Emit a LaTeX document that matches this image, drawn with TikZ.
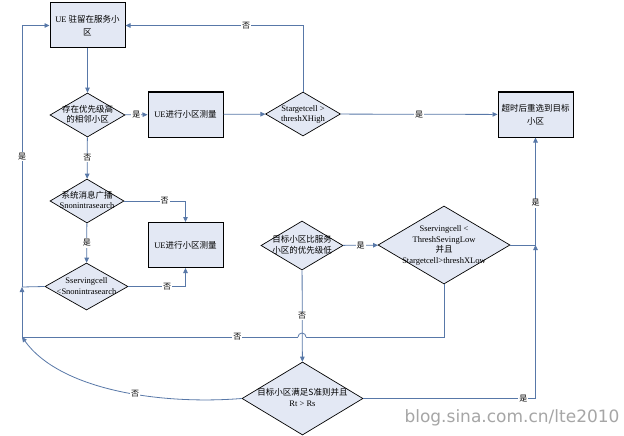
\documentclass[tikz,border=0pt]{standalone}
\usepackage{fontspec}
\setmainfont{Liberation Serif}
\newfontfamily\cjk{Noto Sans CJK SC}
\newfontfamily\wmfont{DejaVu Sans}
\usetikzlibrary{shapes.geometric,arrows.meta}
\definecolor{nf}{HTML}{E3E8F4}
\definecolor{lc}{HTML}{5878A8}
\newcommand\zh[1]{{\cjk #1}}
\newcommand\dtext[1]{\smash{\makebox[0pt]{\raisebox{-2.5pt}{\begin{tabular}{@{}c@{}}#1\end{tabular}}}}}
\tikzset{
  line/.style={draw=lc, line width=0.8pt},
  arr/.style={line, -{Triangle[length=5pt,width=4.5pt]}},
  box/.style={draw=black, line width=1pt, fill=nf, minimum width=75pt, minimum height=45pt, inner sep=0pt, align=center, font=\fontsize{8.5}{13}\selectfont},
  dia/.style={diamond, draw=black, line width=0.7pt, fill=nf, inner sep=0pt, font=\fontsize{8.5}{10.5}\selectfont},
  lab/.style={fill=white, inner sep=1pt, font=\fontsize{8}{9}\selectfont\cjk}
}
\begin{document}
\begin{tikzpicture}[x=1pt,y=-1pt]
\useasboundingbox[fill=white] (0,0) rectangle (624,436);
% nodes
\node[box] (A) at (87.5,25.5) {UE \zh{驻留在服务小}\\\zh{区}};
\node[dia, minimum width=75pt, minimum height=44pt] (D1) at (87.5,115) {\dtext{\zh{存在优先级高}\\\zh{的相邻小区}}};
\node[box] (B1) at (185.5,114.5) {UE\zh{进行小区测量}};
\node[dia, minimum width=75pt, minimum height=44pt] (D2) at (303,114) {\dtext{Stargetcell >\\threshXHigh}};
\node[box] (E) at (535.5,114.5) {\zh{超时后重选到目标}\\\zh{小区}};
\node[dia, minimum width=74pt, minimum height=44pt] (D3) at (87,201) {\dtext{\zh{系统消息广播}\\Snonintrasearch}};
\node[box] (B2) at (185.5,245) {UE\zh{进行小区测量}};
\node[dia, minimum width=83pt, minimum height=47pt] (D4) at (86.5,286.5) {\dtext{Sservingcell\\<Snonintrasearch}};
\node[dia, minimum width=82pt, minimum height=49pt] (D5) at (302,245.5) {\dtext{\zh{目标小区比服务}\\\zh{小区的优先级低}}};
\node[dia, minimum width=132pt, minimum height=78pt] (D6) at (444,245) {\dtext{Sservingcell <\\ThreshSevingLow\\\zh{并且}\\Stargetcell>threshXLow}};
\node[dia, minimum width=121pt, minimum height=73pt] (D7) at (302.5,398.5) {\dtext{\zh{目标小区满足S准则并且}\\Rt > Rs}};
\node[inner sep=0pt, text=gray!70, font=\wmfont\fontsize{17}{17}\selectfont] (wm) at (512,418) {blog.sina.com.cn/lte2010};
% helper coordinates
\coordinate (jl) at (22,287);
\coordinate (bl) at (22,337);
\coordinate (hopR) at (306,337);
\coordinate (hopL) at (298,337);
\coordinate (jr) at (535.5,245);
\coordinate (br) at (535.5,398.5);
% connectors
\draw[arr] (A) -- (D1);
\draw[arr] (D1) -- node[lab]{是} (B1);
\draw[arr] (B1) -- (D2);
\draw[arr] (D2.north) |- node[lab,pos=0.66]{否} (A.east);
\draw[arr] (D2) -- node[lab]{是} (E);
\draw[arr] (D1) -- node[lab]{否} (D3);
\draw[arr] (D3.east) -| node[lab,pos=0.33]{否} (B2.north);
\draw[arr] (D3) -- node[lab]{是} (D4);
\draw[arr] (D4.east) -| node[lab,pos=0.34]{否} (B2.south);
\draw[line] (D4.west) -- (jl);
\draw[arr] (bl) -- (jl);
\draw[arr] (jl) |- node[lab,pos=0.25]{是} (A.west);
\draw[arr] (D5) -- node[lab]{否} (D7);
\draw[line] (D6.south) |- (hopR);
\draw[line] (hopR) arc[start angle=0, end angle=-180, radius=4];
\draw[line] (hopL) -- node[lab,pos=0.22]{否} (bl);
\draw[arr] (D5) -- node[lab]{是} (D6);
\draw[line] (D6.east) -- (jr);
\draw[arr] (br) -- (jr);
\draw[arr] (jr) -- node[lab,pos=0.39]{是} (E.south);
\draw[line] (D7.east) -- node[lab,pos=0.93]{是} (br);
\draw[arr] (D7.west) .. controls (160,405) and (60,390) .. node[lab,pos=0.42]{否} (bl);
\end{tikzpicture}
\end{document}
